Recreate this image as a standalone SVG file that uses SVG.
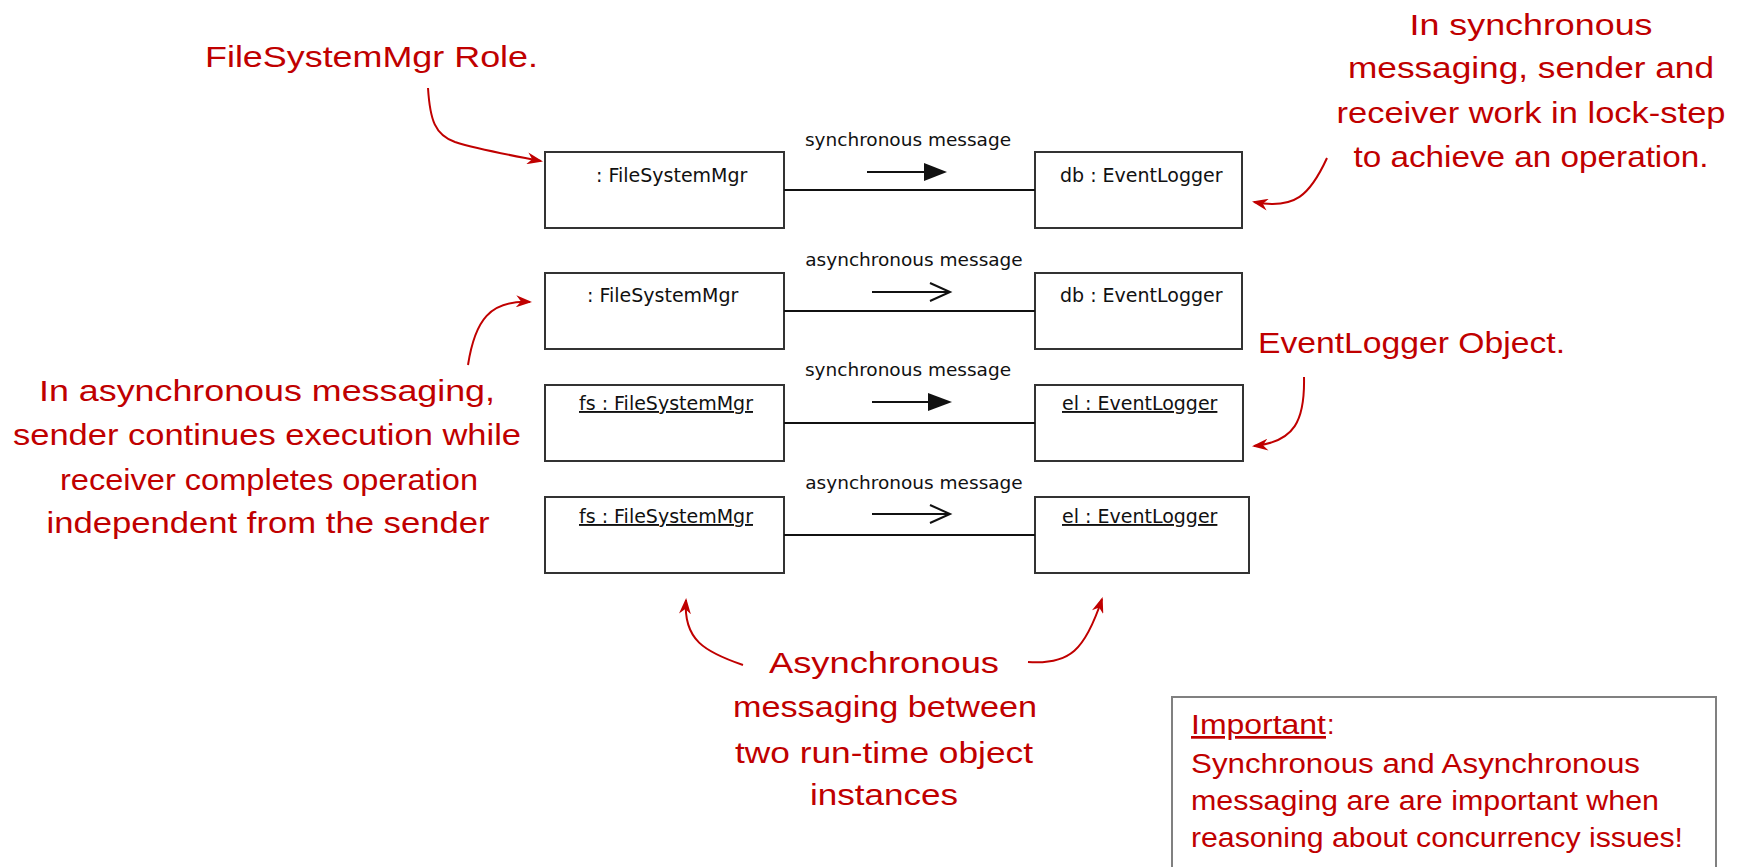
<svg xmlns="http://www.w3.org/2000/svg" width="1737" height="867" viewBox="0 0 1737 867">
<style>
.box{fill:#fff;stroke:#333;stroke-width:2}
.lbl{font-family:"DejaVu Sans",sans-serif;font-size:19px;fill:#111}
.u{text-decoration:underline}
.msg{font-family:"DejaVu Sans",sans-serif;font-size:18.5px;fill:#111;text-anchor:middle}
.conn{stroke:#111;stroke-width:2;fill:none}
.note{font-family:"Liberation Sans",sans-serif;font-size:30px;fill:#C00000}
.mid{text-anchor:middle}
.imp{font-family:"Liberation Sans",sans-serif;font-size:27px;fill:#C00000}
.ann{stroke:#C00000;stroke-width:2;fill:none;marker-end:url(#redhead)}
</style>
<defs>
<marker id="redhead" viewBox="0 0 16 12" refX="14" refY="6" markerWidth="16" markerHeight="12" markerUnits="userSpaceOnUse" orient="auto">
<path d="M0,0 L16,6 L0,12 L5,6 z" fill="#C00000"/>
</marker>
</defs>
<rect width="1737" height="867" fill="#fff"/>

<g id="row1-sender"><rect class="box" x="545" y="152" width="239" height="76"/><text class="lbl" x="596" y="182">: FileSystemMgr</text></g>
<g id="row1-receiver"><rect class="box" x="1035" y="152" width="207" height="76"/><text class="lbl" x="1060" y="182">db : EventLogger</text></g>
<g id="row2-sender"><rect class="box" x="545" y="273" width="239" height="76"/><text class="lbl" x="587" y="302">: FileSystemMgr</text></g>
<g id="row2-receiver"><rect class="box" x="1035" y="273" width="207" height="76"/><text class="lbl" x="1060" y="302">db : EventLogger</text></g>
<g id="row3-sender"><rect class="box" x="545" y="385" width="239" height="76"/><text class="lbl u" x="579" y="410">fs : FileSystemMgr</text></g>
<g id="row3-receiver"><rect class="box" x="1035" y="385" width="208" height="76"/><text class="lbl u" x="1062" y="410">el : EventLogger</text></g>
<g id="row4-sender"><rect class="box" x="545" y="497" width="239" height="76"/><text class="lbl u" x="579" y="523">fs : FileSystemMgr</text></g>
<g id="row4-receiver"><rect class="box" x="1035" y="497" width="214" height="76"/><text class="lbl u" x="1062" y="523">el : EventLogger</text></g>

<g id="connectors">
<line class="conn" x1="784" y1="190" x2="1035" y2="190"/>
<line class="conn" x1="784" y1="311" x2="1035" y2="311"/>
<line class="conn" x1="784" y1="423" x2="1035" y2="423"/>
<line class="conn" x1="784" y1="535" x2="1035" y2="535"/>
<text class="msg" x="908" y="146">synchronous message</text>
<line class="conn" x1="867" y1="172" x2="926" y2="172"/>
<path d="M924,163 L947,172 L924,181 z" fill="#111"/>
<text class="msg" x="914" y="266">asynchronous message</text>
<line class="conn" x1="872" y1="292" x2="949" y2="292"/>
<path class="conn" d="M930,283 L950,292 L930,301"/>
<text class="msg" x="908" y="376">synchronous message</text>
<line class="conn" x1="872" y1="402" x2="930" y2="402"/>
<path d="M928,393 L952,402 L928,411 z" fill="#111"/>
<text class="msg" x="914" y="489">asynchronous message</text>
<line class="conn" x1="872" y1="514" x2="949" y2="514"/>
<path class="conn" d="M930,505 L950,514 L930,523"/>
</g>

<g id="annotation-role">
<text class="note" x="205" y="67" textLength="333" lengthAdjust="spacingAndGlyphs">FileSystemMgr Role.</text>
<path class="ann" d="M428,88 C430,120 435,135 455,142 C480,150 510,155 541,161"/>
</g>

<g id="annotation-sync">
<text class="note mid" x="1531" y="35" textLength="243" lengthAdjust="spacingAndGlyphs">In synchronous</text>
<text class="note mid" x="1531" y="78" textLength="366" lengthAdjust="spacingAndGlyphs">messaging, sender and</text>
<text class="note mid" x="1531" y="123" textLength="389" lengthAdjust="spacingAndGlyphs">receiver work in lock-step</text>
<text class="note mid" x="1531" y="167" textLength="355" lengthAdjust="spacingAndGlyphs">to achieve an operation.</text>
<path class="ann" d="M1327,158 C1310,195 1295,210 1254,202"/>
</g>

<g id="annotation-object">
<text class="note" x="1258" y="353" textLength="307" lengthAdjust="spacingAndGlyphs">EventLogger Object.</text>
<path class="ann" d="M1304,377 C1305,420 1295,442 1254,446"/>
</g>

<g id="annotation-async">
<text class="note mid" x="267" y="401" textLength="456" lengthAdjust="spacingAndGlyphs">In asynchronous messaging,</text>
<text class="note mid" x="267" y="445" textLength="508" lengthAdjust="spacingAndGlyphs">sender continues execution while</text>
<text class="note mid" x="269" y="490" textLength="418" lengthAdjust="spacingAndGlyphs">receiver completes operation</text>
<text class="note mid" x="268" y="533" textLength="443" lengthAdjust="spacingAndGlyphs">independent from the sender</text>
<path class="ann" d="M468,365 C475,320 490,300 530,302"/>
</g>

<g id="annotation-instances">
<text class="note mid" x="884" y="673" textLength="230" lengthAdjust="spacingAndGlyphs">Asynchronous</text>
<text class="note mid" x="885" y="717" textLength="304" lengthAdjust="spacingAndGlyphs">messaging between</text>
<text class="note mid" x="884" y="763" textLength="298" lengthAdjust="spacingAndGlyphs">two run-time object</text>
<text class="note mid" x="884" y="805" textLength="148" lengthAdjust="spacingAndGlyphs">instances</text>
<path class="ann" d="M743,665 C705,652 683,640 686,600"/>
<path class="ann" d="M1028,662 C1070,665 1085,650 1102,599"/>
</g>

<g id="important-note">
<rect x="1172" y="697" width="544" height="190" fill="#fff" stroke="#808080" stroke-width="2"/>
<text class="imp u" x="1191" y="734" textLength="135" lengthAdjust="spacingAndGlyphs">Important</text>
<text class="imp" x="1327" y="734">:</text>
<text class="imp" x="1191" y="773" textLength="449" lengthAdjust="spacingAndGlyphs">Synchronous and Asynchronous</text>
<text class="imp" x="1191" y="810" textLength="468" lengthAdjust="spacingAndGlyphs">messaging are are important when</text>
<text class="imp" x="1191" y="847" textLength="492" lengthAdjust="spacingAndGlyphs">reasoning about concurrency issues!</text>
</g>
</svg>
